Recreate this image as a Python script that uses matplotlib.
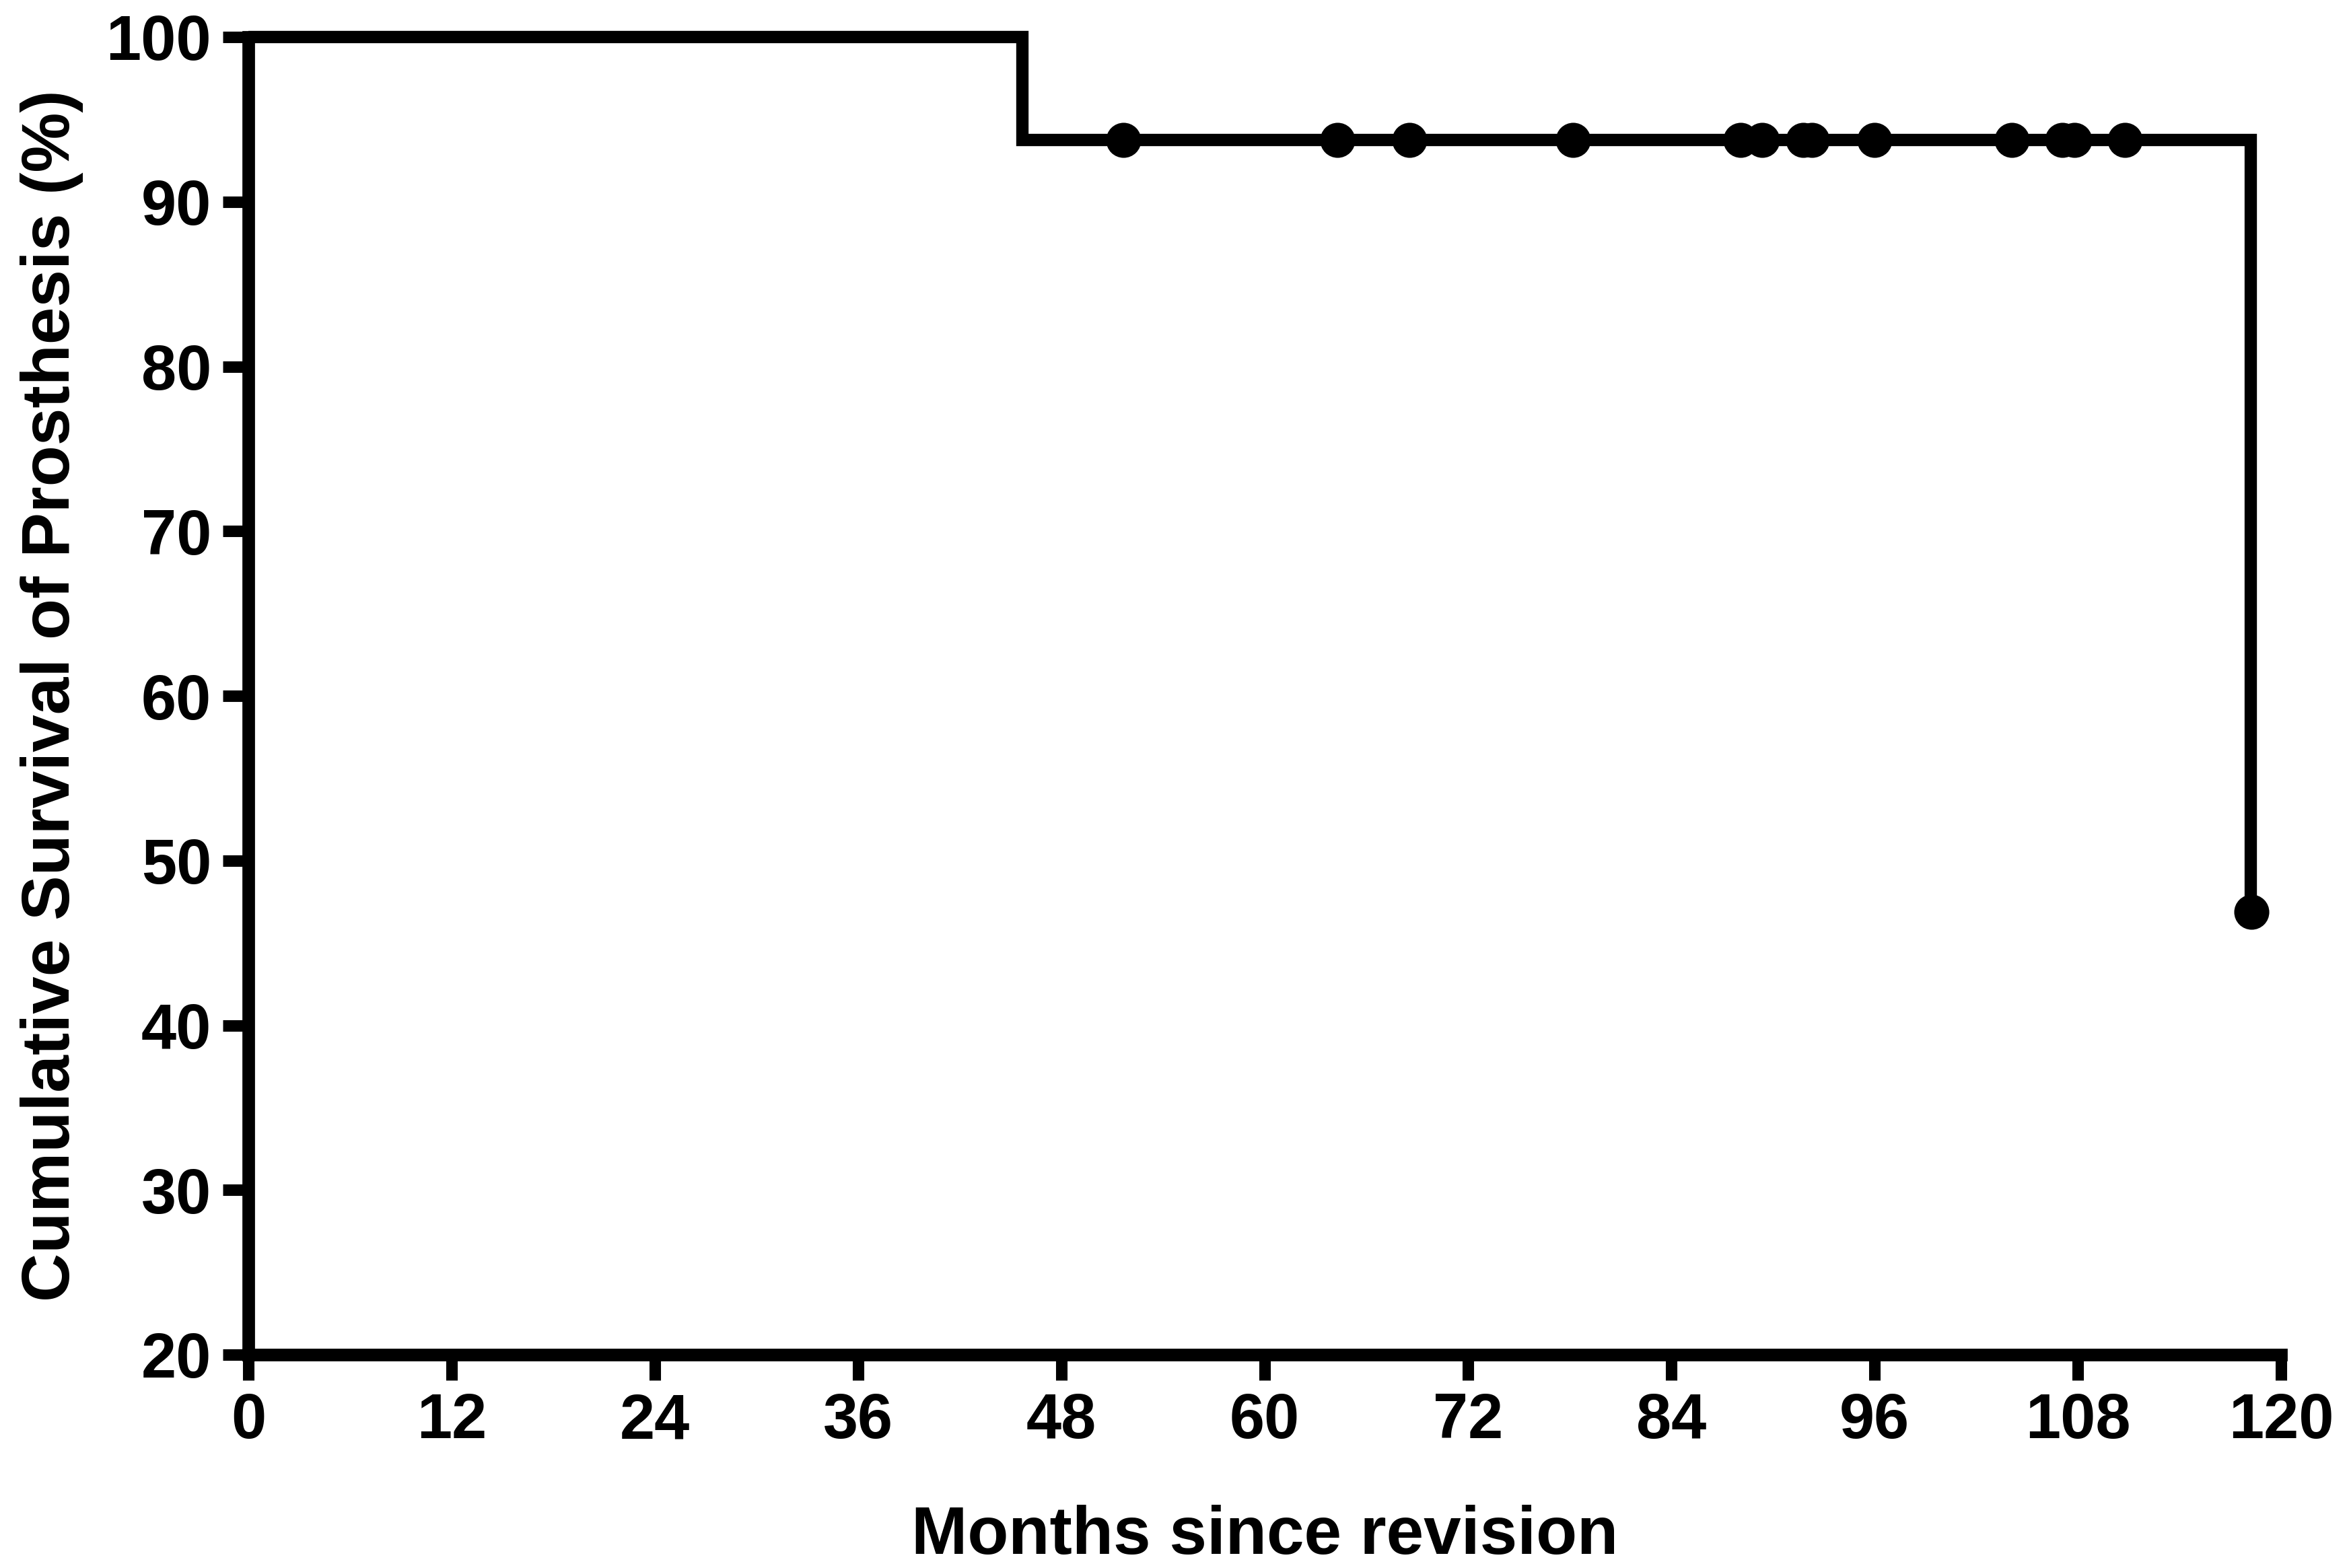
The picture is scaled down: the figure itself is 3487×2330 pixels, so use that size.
import numpy as np
import matplotlib
matplotlib.use("Agg")
import matplotlib.pyplot as plt

# Kaplan-Meier data (months since revision, survival %)
step_times = [0, 45.7, 118.2]
step_surv = [100, 93.75, 46.875]

censor_times = [51.65, 64.3, 68.55, 78.2, 88.1, 89.35, 91.8, 92.3, 96.0,
                104.1, 107.1, 107.8, 110.8, 118.25]
censor_surv = [93.75] * 13 + [46.875]

x_ticks = list(range(0, 121, 12))
y_ticks = list(range(20, 101, 10))

plt.rcParams['font.family'] = ['Liberation Sans', 'DejaVu Sans']
plt.rcParams['font.weight'] = 'bold'

fig = plt.figure(figsize=(3487 / 300, 2330 / 300), dpi=300)
ax = fig.add_axes([369 / 3487, 1 - 2013 / 2330, 3020 / 3487, 1958 / 2330])

# step curve: horizontal segments then drops
ax.step(step_times + [step_times[-1]], step_surv + [step_surv[-1]],
        where='post', color='black', lw=4.4, clip_on=False,
        solid_joinstyle='miter', solid_capstyle='butt')
ax.plot(censor_times, censor_surv, 'o', color='black', ms=11.5,
        clip_on=False, zorder=5)

ax.set_xlim(0, 120)
ax.set_ylim(20, 100)
ax.set_xticks(x_ticks)
ax.set_yticks(y_ticks)

for side in ['top', 'right']:
    ax.spines[side].set_visible(False)
for side in ['left', 'bottom']:
    ax.spines[side].set_linewidth(4.5)
ax.tick_params(width=4.1, length=9.2, labelsize=22.5, pad=4)
for lab in ax.get_xticklabels() + ax.get_yticklabels():
    lab.set_fontweight('bold')

ax.set_xlabel('Months since revision', fontsize=24, fontweight='bold', labelpad=19)
ax.set_ylabel('Cumulative Survival of Prosthesis (%)', fontsize=24,
              fontweight='bold', labelpad=8)

fig.savefig('out.png', dpi=300)
